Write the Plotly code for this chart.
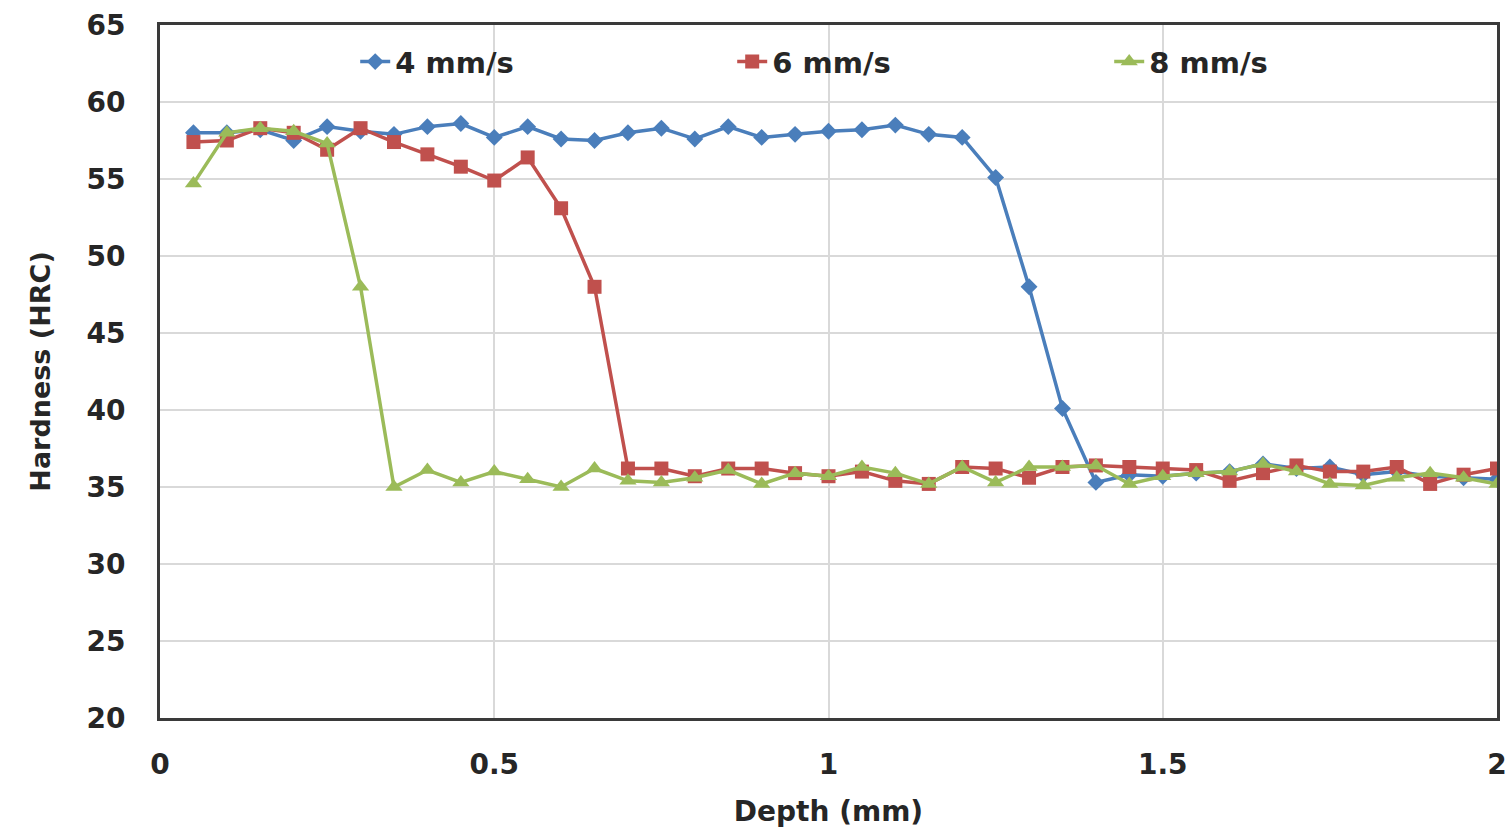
import plotly.graph_objects as go

depth = [0.05, 0.10, 0.15, 0.20, 0.25, 0.30, 0.35, 0.40, 0.45, 0.50,
         0.55, 0.60, 0.65, 0.70, 0.75, 0.80, 0.85, 0.90, 0.95, 1.00,
         1.05, 1.10, 1.15, 1.20, 1.25, 1.30, 1.35, 1.40, 1.45, 1.50,
         1.55, 1.60, 1.65, 1.70, 1.75, 1.80, 1.85, 1.90, 1.95, 2.00]

hard_4 = [58.0, 58.0, 58.2, 57.5, 58.4, 58.1, 57.9, 58.4, 58.6, 57.7,
          58.4, 57.6, 57.5, 58.0, 58.3, 57.6, 58.4, 57.7, 57.9, 58.1,
          58.2, 58.5, 57.9, 57.7, 55.1, 48.0, 40.1, 35.3, 35.8, 35.7,
          35.9, 36.0, 36.5, 36.2, 36.3, 35.8, 36.0, 35.7, 35.6, 35.5]

hard_6 = [57.4, 57.5, 58.3, 58.0, 56.9, 58.3, 57.4, 56.6, 55.8, 54.9,
          56.4, 53.1, 48.0, 36.2, 36.2, 35.7, 36.2, 36.2, 35.9, 35.7,
          36.0, 35.4, 35.2, 36.3, 36.2, 35.6, 36.3, 36.4, 36.3, 36.2,
          36.1, 35.4, 35.9, 36.4, 36.0, 36.0, 36.3, 35.2, 35.8, 36.2]

hard_8 = [54.7, 58.0, 58.3, 58.1, 57.3, 48.0, 35.0, 36.1, 35.3, 36.0,
          35.5, 35.0, 36.2, 35.4, 35.3, 35.6, 36.1, 35.2, 35.9, 35.7,
          36.3, 35.9, 35.2, 36.3, 35.3, 36.3, 36.3, 36.4, 35.2, 35.7,
          35.9, 36.0, 36.5, 36.0, 35.2, 35.1, 35.6, 35.9, 35.6, 35.2]

x_ticks = [0, 0.5, 1, 1.5, 2]
x_tick_labels = ["0", "0.5", "1", "1.5", "2"]
y_ticks = [20, 25, 30, 35, 40, 45, 50, 55, 60, 65]

FONT = "DejaVu Sans, Arial, sans-serif"
TXT = "#262626"

fig = go.Figure()
fig.add_trace(go.Scatter(x=depth, y=hard_4, name="4 mm/s", mode="lines+markers",
                         line=dict(color="#4A7EBB", width=3.5),
                         marker=dict(symbol="diamond", size=13, color="#4A7EBB")))
fig.add_trace(go.Scatter(x=depth, y=hard_6, name="6 mm/s", mode="lines+markers",
                         line=dict(color="#C0504D", width=3.5),
                         marker=dict(symbol="square", size=14, color="#C0504D")))
fig.add_trace(go.Scatter(x=depth, y=hard_8, name="8 mm/s", mode="lines+markers",
                         line=dict(color="#9BBB59", width=3.5),
                         marker=dict(symbol="triangle-up", size=15, color="#9BBB59")))

fig.update_layout(
    width=1511, height=834,
    margin=dict(l=160, r=14, t=25, b=116, autoexpand=False),
    paper_bgcolor="white", plot_bgcolor="white",
    font=dict(family=FONT, color=TXT, size=27, weight="bold"),
    showlegend=True,
    legend=dict(orientation="h", x=0.146, y=0.947, xanchor="left", yanchor="middle",
                entrywidth=332, entrywidthmode="pixels",
                font=dict(size=29, color=TXT, weight="bold"), bgcolor="rgba(0,0,0,0)",
                itemwidth=30),
    xaxis=dict(range=[0, 2], tickvals=x_ticks, ticktext=x_tick_labels,
               showgrid=True, gridcolor="#d9d9d9", gridwidth=2,
               showline=True, linecolor="#3a3a3a", linewidth=3, mirror=True,
               ticks="", ticklabelstandoff=19, zeroline=False,
               tickfont=dict(size=28, color=TXT, weight="bold"),
               title=dict(text="Depth (mm)", font=dict(size=28, color=TXT, weight="bold"), standoff=22)),
    yaxis=dict(range=[20, 65], tickvals=y_ticks,
               showgrid=True, gridcolor="#d9d9d9", gridwidth=2,
               showline=True, linecolor="#3a3a3a", linewidth=3, mirror=True,
               ticks="", ticklabelstandoff=26, zeroline=False,
               tickfont=dict(size=28, color=TXT, weight="bold"),
               title=dict(text="Hardness (HRC)", font=dict(size=27, color=TXT, weight="bold"), standoff=28)),
)

fig.write_html("out.html")
